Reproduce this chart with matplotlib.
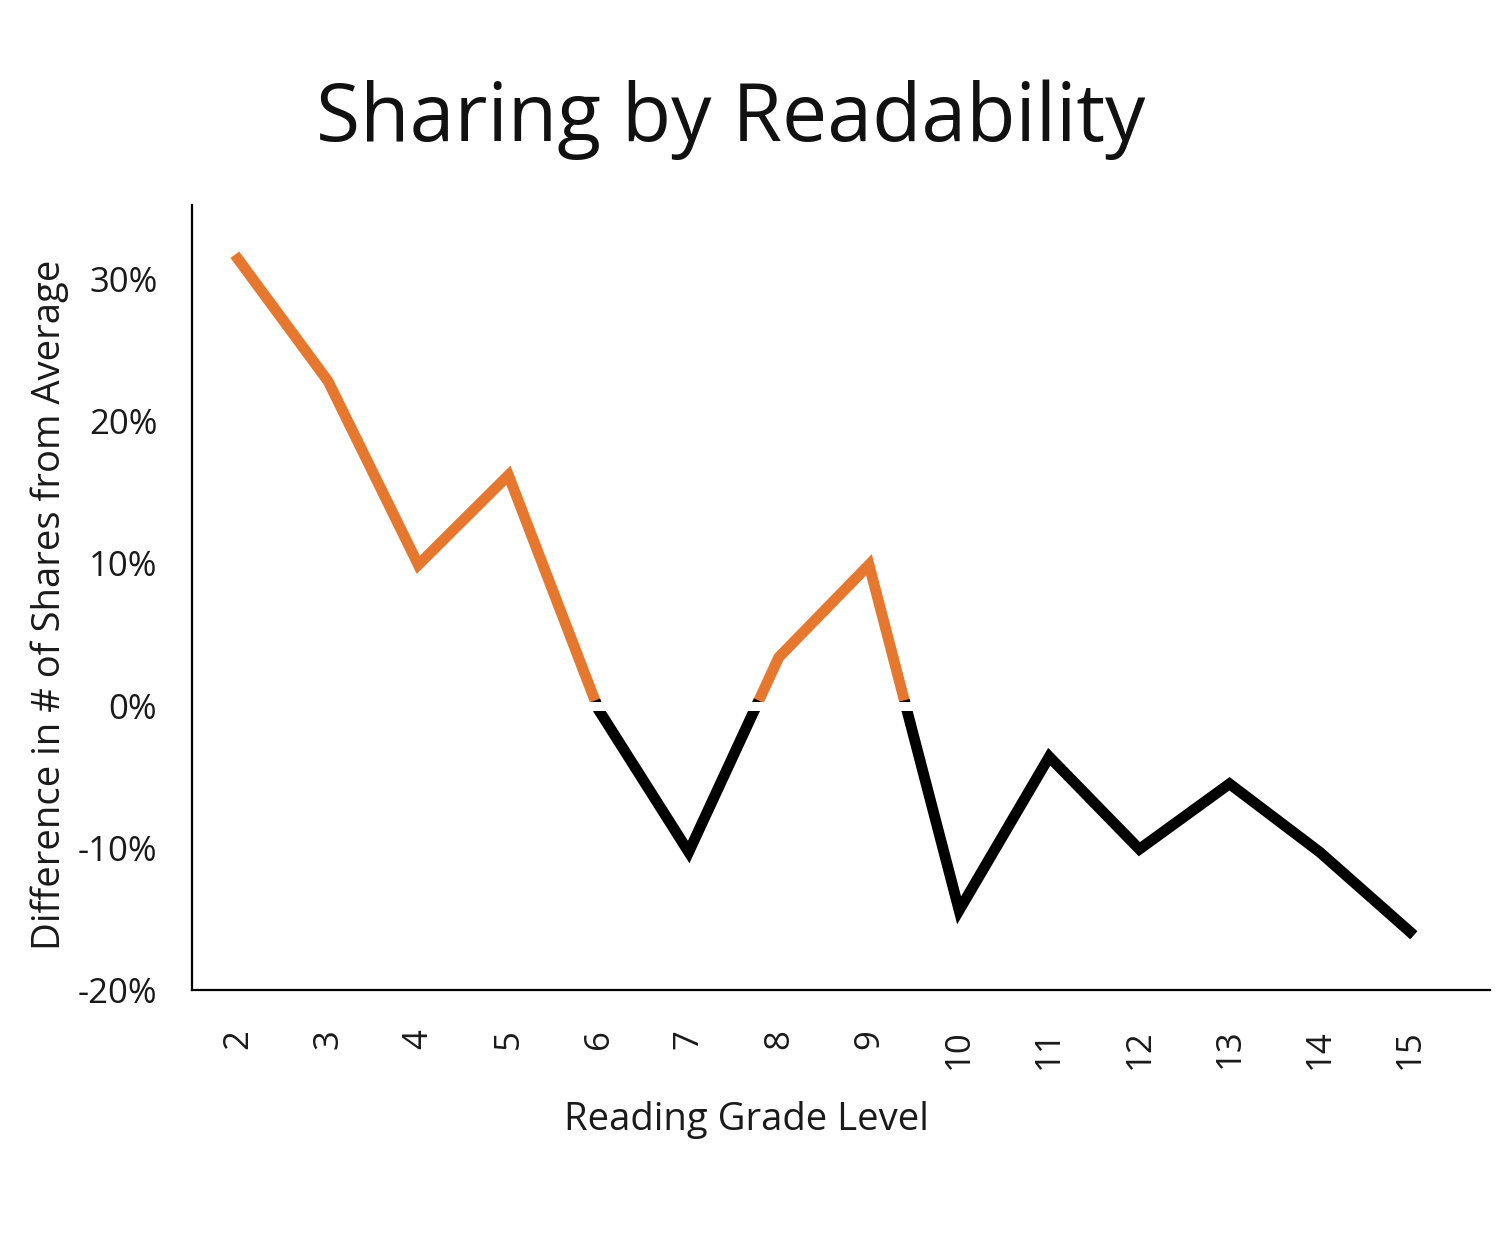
import numpy as np
import matplotlib
matplotlib.use("Agg")
import matplotlib.pyplot as plt

# Data
grades = [2, 3, 4, 5, 6, 7, 8, 9, 10, 11, 12, 13, 14, 15]
share_diff = [31.4, 22.8, 9.9, 16.2, -0.3, -10.3, 3.4, 9.9, -14.4, -3.6, -10.1, -5.5, -10.3, -15.9]
yticks = [-20, -10, 0, 10, 20, 30]

ORANGE = "#E6772E"
plt.rcParams['font.family'] = ['Open Sans', 'DejaVu Sans']

# Insert zero crossings so the line can be split into above / below average parts
xs, ys = [grades[0]], [share_diff[0]]
for i in range(1, len(grades)):
    x0, y0, x1, y1 = grades[i - 1], share_diff[i - 1], grades[i], share_diff[i]
    if y0 * y1 < 0:
        xs.append(x0 + (x1 - x0) * y0 / (y0 - y1))
        ys.append(0.0)
    xs.append(x1)
    ys.append(y1)
xs = np.array(xs)
ys = np.array(ys)
pos = np.where(ys >= 0, ys, np.nan)
neg = np.where(ys <= 0, ys, np.nan)

fig = plt.figure(figsize=(15.04, 12.39), dpi=100)
ax = fig.add_axes([0.1277, 0.201, 0.863, 0.6335])

ax.plot(xs, pos, color=ORANGE, lw=7.8, solid_joinstyle='miter', zorder=3)
ax.plot(xs, neg, color='black', lw=7.8, solid_joinstyle='miter', zorder=3)
# small white gap where the line crosses zero
ax.axhline(0, color='white', lw=6.5, zorder=4)

ax.set_xlim(1.49, 15.89)
ax.set_ylim(-20, 35.2)
ax.set_xticks(grades)
ax.set_xticklabels([str(g) for g in grades], rotation=90, fontsize=25)
ax.set_yticks(yticks)
ax.set_yticklabels([f"{t}%" for t in yticks], fontsize=25)
ax.tick_params(axis='both', length=0, colors='#1a1a1a')
ax.tick_params(axis='x', pad=28)
ax.tick_params(axis='y', pad=25)

for side in ['top', 'right']:
    ax.spines[side].set_visible(False)
for side in ['left', 'bottom']:
    ax.spines[side].set_linewidth(1.6)
    ax.spines[side].set_color('black')
    ax.spines[side].set_zorder(5)

fig.text(0.486, 1 - 120 / 1239, "Sharing by Readability", fontsize=58,
         ha='center', va='center', color='#111111')
fig.text(0.496, 1 - 1120 / 1239, "Reading Grade Level", fontsize=27.5,
         ha='center', va='center', color='#1a1a1a')
fig.text(50 / 1504, 1 - 605 / 1239, "Difference in # of Shares from Average", fontsize=27.5,
         rotation=90, ha='center', va='center', color='#1a1a1a')

fig.savefig("out.png", dpi=100, facecolor='white')
